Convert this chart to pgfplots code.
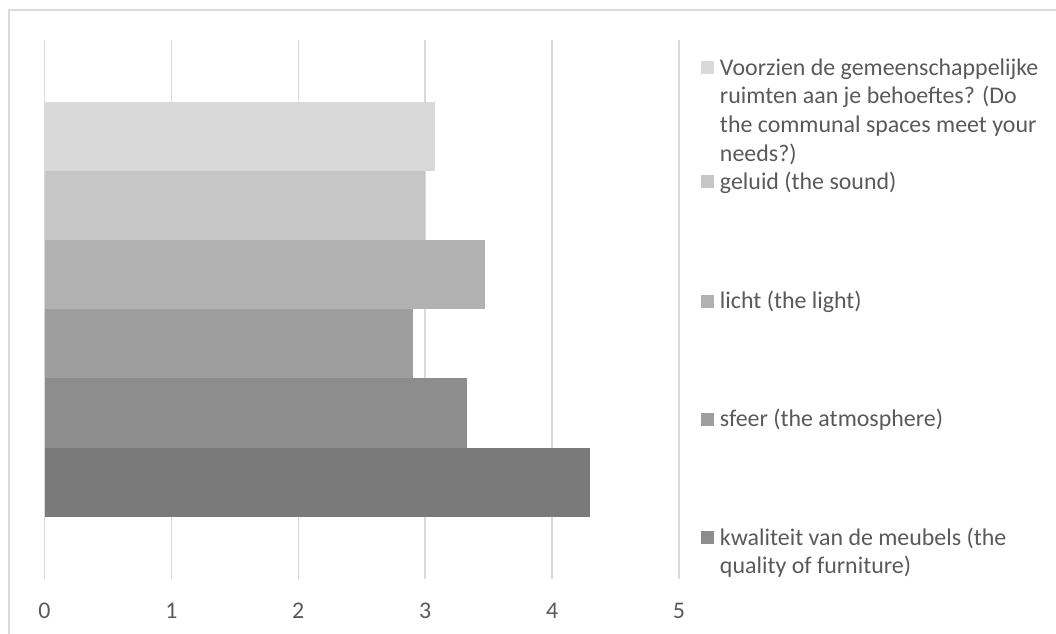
\documentclass[border=0pt]{standalone}
\usepackage{fontspec}
\setmainfont{Carlito}
\usepackage{pgfplots}
\pgfplotsset{compat=1.18}

\definecolor{gridgray}{HTML}{D9D9D9}
\definecolor{framegray}{HTML}{D9D9D9}
\definecolor{textgray}{HTML}{595959}
\definecolor{barA}{HTML}{D9D9D9}
\definecolor{barB}{HTML}{C6C6C6}
\definecolor{barC}{HTML}{B1B1B1}
\definecolor{barD}{HTML}{9E9E9E}
\definecolor{barE}{HTML}{8D8D8D}
\definecolor{barF}{HTML}{7A7A7A}

\begin{document}
\begin{tikzpicture}
\useasboundingbox (0,0) rectangle (528bp,317bp);
% chart frame (left and top edges)
\draw[framegray, line width=1bp] (4.5bp,0) -- (4.5bp,312bp) -- (528bp,312bp);
\begin{axis}[
  at={(22.25bp,27.5bp)}, anchor=south west,
  scale only axis, width=317.25bp, height=269.75bp,
  xmin=0, xmax=5, ymin=-1.4, ymax=6.4,
  xtick={0,1,2,3,4,5}, ytick=\empty,
  xmajorgrids, grid style={gridgray, line width=0.75bp},
  axis line style={draw=none},
  major tick length=0pt,
  /pgf/number format/assume math mode=true,
  xticklabel style={anchor=center, yshift=-16bp,
    font=\fontsize{12}{14}\selectfont, text=textgray},
  legend style={at={(axis description cs:1.034673,0.963855)}, anchor=north west,
    draw=none, fill=none, inner sep=0pt, outer sep=0pt,
    row sep=0pt, column sep=3bp,
    font=\fontsize{12}{14.5}\selectfont, text=textgray,
    cells={anchor=base west},
    nodes={inner sep=0pt, outer sep=0pt, text height=8bp}},
  mybar/.style={xbar, bar shift=0pt, bar width=1, draw=none, fill=#1,
    legend image code/.code={\fill[fill=#1, draw=none] (0bp,0.3bp) rectangle (6.5bp,6.8bp);}},
]
\addplot[mybar=barA] coordinates {(3.08,5)};
\addlegendentry[text depth=49bp]{\parbox[t]{170bp}{Voorzien de gemeenschappelijke\\ruimten aan je behoeftes? (Do\\the communal spaces meet your\\needs?)}}
\addplot[mybar=barB] coordinates {(3.00,4)};
\addlegendentry[text depth=51.65bp]{\parbox[t]{170bp}{geluid (the sound)}}
\addplot[mybar=barC] coordinates {(3.47,3)};
\addlegendentry[text depth=51.2bp]{\parbox[t]{170bp}{licht (the light)}}
\addplot[mybar=barD] coordinates {(2.90,2)};
\addlegendentry[text depth=51.15bp]{\parbox[t]{170bp}{sfeer (the atmosphere)}}
\addplot[mybar=barE] coordinates {(3.33,1)};
\addlegendentry[text depth=20bp]{\parbox[t]{170bp}{kwaliteit van de meubels (the\\quality of furniture)}}
\addplot[mybar=barF, forget plot] coordinates {(4.30,0)};
\end{axis}
\end{tikzpicture}
\end{document}
